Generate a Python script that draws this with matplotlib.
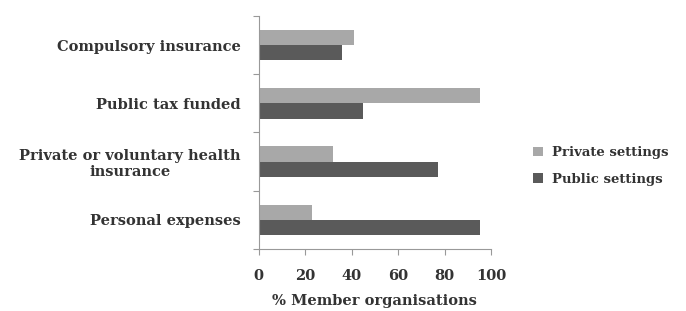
import matplotlib.pyplot as plt
import numpy as np

# categorias de cima para baixo
categorias = ["Compulsory insurance", "Public tax funded",
              "Private or voluntary health\ninsurance", "Personal expenses"]
privado = [41, 95, 32, 23]
publico = [36, 45, 77, 95]
xticks = [0, 20, 40, 60, 80, 100]

plt.rcParams['font.family'] = ['DejaVu Serif']

fig = plt.figure(figsize=(6.86, 3.11), dpi=100)
ax = fig.add_axes([0.377, 0.199, 0.339, 0.750])

y = np.arange(len(categorias))
h = 0.265
ax.barh(y - h / 2, privado, h, color='#a8a8a8', label='Private settings')
ax.barh(y + h / 2, publico, h, color='#5a5a5a', label='Public settings')

ax.set_xlim(0, 100)
ax.set_ylim(len(categorias) - 0.5, -0.5)
ax.set_xticks(xticks)
ax.set_xticklabels([str(v) for v in xticks], fontsize=10.5, fontweight='bold', color='#333333')

# ticks nas fronteiras, rotulos no centro
ax.set_yticks(np.arange(len(categorias) + 1) - 0.5)
ax.set_yticklabels([])
ax.set_yticks(y, minor=True)
ax.set_yticklabels(categorias, minor=True, fontsize=10.5, fontweight='bold', color='#333333',
                   ha='right', multialignment='center', linespacing=1.15)
ax.tick_params(axis='y', which='minor', length=0, pad=13)
ax.tick_params(axis='y', which='major', length=4, color='#999999', direction='out')
ax.tick_params(axis='x', length=4, color='#999999', direction='out', pad=10)

for s in ['top', 'right']:
    ax.spines[s].set_visible(False)
for s in ['left', 'bottom']:
    ax.spines[s].set_color('#999999')

ax.set_xlabel('% Member organisations', fontsize=10.5, fontweight='bold', color='#333333', labelpad=8)

leg = ax.legend(loc='center left', bbox_to_anchor=(1.13, 0.356), frameon=False,
                prop={'size': 9.5, 'weight': 'bold'}, handlelength=0.7, handleheight=0.7,
                handletextpad=0.7, labelspacing=1.0)
for t in leg.get_texts():
    t.set_color('#333333')

fig.savefig('out.png', dpi=100)
